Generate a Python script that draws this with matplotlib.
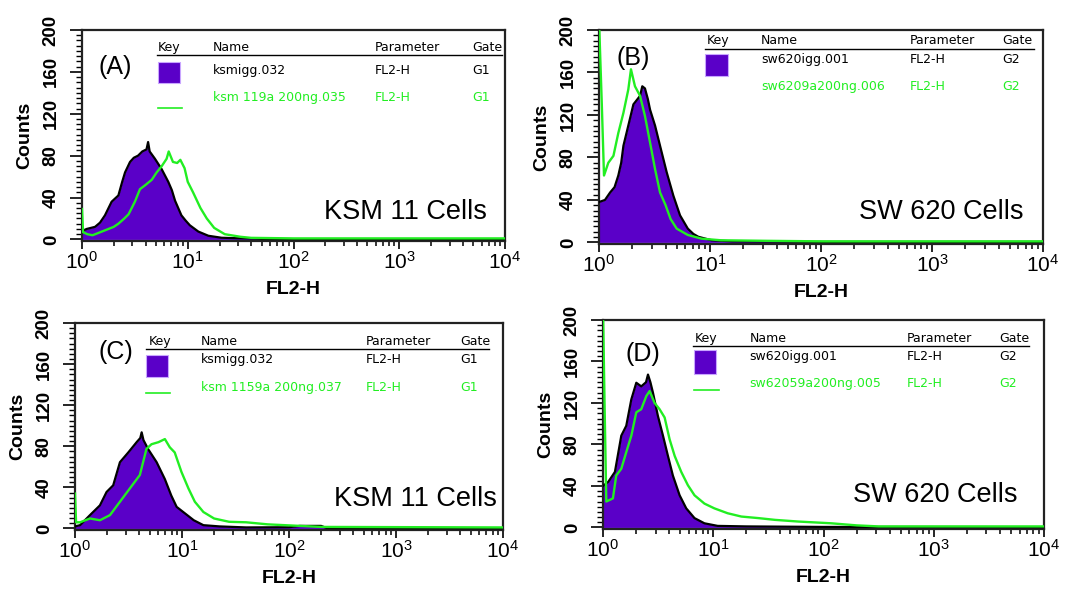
import matplotlib
matplotlib.use("Agg")
import numpy as np
import matplotlib.pyplot as plt
from matplotlib.patches import Rectangle
from matplotlib.ticker import FixedLocator, MultipleLocator, NullFormatter, FixedFormatter

plt.rcParams['font.family'] = ['Liberation Sans', 'DejaVu Sans']
plt.rcParams['mathtext.fontset'] = 'custom'
plt.rcParams['mathtext.rm'] = 'Liberation Sans'
plt.rcParams['mathtext.it'] = 'Liberation Sans:italic'
plt.rcParams['mathtext.bf'] = 'Liberation Sans:bold'

PURPLE = '#5a00c8'
GREEN = '#22ee22'

# ---------------------------------------------------------------------------
# Histogram data: channel position as log10(FL2-H) and event counts
# ---------------------------------------------------------------------------
# (A) KSM 11, isotype control vs 119a antibody
a_ctrl_dec = [0.0, 0.044, 0.123, 0.17, 0.217, 0.28, 0.344, 0.38, 0.407, 0.454, 0.49, 0.53,
              0.57, 0.61, 0.625, 0.64, 0.69, 0.754, 0.816, 0.85, 0.88, 0.94, 0.98, 1.02,
              1.10, 1.195, 1.32, 1.45, 1.57, 1.7, 2.0, 4.0]
a_ctrl_cnt = [8, 10, 12, 16, 23, 36, 42, 55, 64, 74, 78, 80,
              84, 86, 93, 84, 77, 67, 55, 47, 37, 23, 18, 13.5,
              7.5, 3.5, 1.6, 1.2, 1.0, 0.5, 0.3, 0.3]
a_test_dec = [0.0, 0.01, 0.05, 0.1, 0.15, 0.2, 0.25, 0.3, 0.344, 0.4, 0.44, 0.5, 0.548,
              0.6, 0.66, 0.706, 0.754, 0.8, 0.82, 0.86, 0.9, 0.93, 0.97, 1.0, 1.05,
              1.12, 1.18, 1.25, 1.35, 1.5, 1.6, 2.0, 4.0]
a_test_cnt = [29, 7, 5, 4, 6, 8, 10, 12, 15, 20, 24, 36, 48,
              52, 57, 64, 70, 77, 84, 74, 73, 76, 68, 55, 45,
              30, 20, 11, 5, 2.5, 1.5, 1.0, 1.0]

# (B) SW 620, isotype control vs 9a antibody
b_ctrl_dec = [0.0, 0.054, 0.1, 0.14, 0.174, 0.2, 0.22, 0.264, 0.31, 0.34, 0.37, 0.39,
              0.414, 0.44, 0.46, 0.505, 0.55, 0.61, 0.67, 0.73, 0.80, 0.85, 0.895,
              1.015, 1.2, 1.5, 2.0, 4.0]
b_ctrl_cnt = [38, 40, 47, 52, 63, 75, 91, 110, 130, 134, 138, 147,
              145, 135, 125, 110, 91, 66, 44, 25.5, 13, 8, 5.3,
              2, 1, 0.8, 0.5, 0.5]
b_test_dec = [0.0, 0.025, 0.045, 0.084, 0.13, 0.174, 0.22, 0.264, 0.288, 0.324, 0.37,
              0.414, 0.46, 0.505, 0.55, 0.6, 0.645, 0.70, 0.80, 0.925, 1.1, 1.5, 2.0, 4.0]
b_test_cnt = [210, 131, 63, 75, 81.5, 103, 122, 144, 163, 147, 138,
              119, 94, 69, 47, 35, 22, 13, 7, 3.5, 2, 1.5, 1.0, 1.0]

# (C) KSM 11, isotype control vs 1159a antibody
c_ctrl_dec = [0.0, 0.047, 0.14, 0.233, 0.295, 0.357, 0.42, 0.498, 0.576, 0.61, 0.623,
              0.64, 0.685, 0.763, 0.84, 0.90, 0.95, 1.03, 1.11, 1.20, 1.35, 1.6, 2.0,
              2.1, 2.3, 2.35, 4.0]
c_ctrl_cnt = [2, 3.2, 13, 22.5, 35.5, 42, 64.5, 74, 84, 88, 93.6,
              86, 77, 64.5, 48, 32, 21, 14.5, 8, 3.2, 2, 1, 1.2,
              2.5, 2.5, 0.5, 0.3]
c_test_dec = [0.0, 0.01, 0.047, 0.14, 0.233, 0.327, 0.42, 0.513, 0.606, 0.668, 0.715,
              0.78, 0.84, 0.886, 0.932, 0.995, 1.06, 1.12, 1.2, 1.30, 1.44, 1.6, 1.8,
              2.0, 2.3, 4.0]
c_test_cnt = [34, 6, 6, 9.7, 8, 13, 26, 39, 52, 77.5, 82,
              84, 87, 79, 74, 55, 39, 26, 16, 9.7, 6.5, 6, 4,
              3, 1.5, 1.0]

# (D) SW 620, isotype control vs 59a antibody
d_ctrl_dec = [0.0, 0.048, 0.108, 0.166, 0.211, 0.257, 0.302, 0.347, 0.39, 0.408, 0.43,
              0.453, 0.498, 0.544, 0.589, 0.634, 0.695, 0.755, 0.83, 0.92, 1.04, 1.3,
              2.0, 4.0]
d_ctrl_cnt = [40, 44, 53.5, 88.5, 98, 123.5, 139.5, 136, 140, 147.4, 140,
              130, 107.5, 88.5, 69, 50, 31, 18.4, 9, 4, 1.5, 1,
              0.5, 0.3]
d_test_dec = [0.0, 0.015, 0.03, 0.09, 0.12, 0.166, 0.211, 0.257, 0.302, 0.347, 0.393,
              0.423, 0.468, 0.513, 0.559, 0.604, 0.65, 0.71, 0.77, 0.83, 0.92, 1.01,
              1.13, 1.255, 1.41, 1.56, 1.77, 2.07, 2.3, 2.5, 4.0]
d_test_cnt = [210, 114, 25, 28, 50, 56.6, 72.6, 88.5, 111, 114, 126.7,
              131.5, 120, 114, 106, 85, 69, 53.5, 40.7, 31, 23, 18.4,
              13.7, 10.5, 9, 7.3, 5.7, 4, 2, 1, 1.0]

panel_tags = ['(A)', '(B)', '(C)', '(D)']
cell_lines = ['KSM 11 Cells', 'SW 620 Cells', 'KSM 11 Cells', 'SW 620 Cells']
ctrl_names = ['ksmigg.032', 'sw620igg.001', 'ksmigg.032', 'sw620igg.001']
test_names = ['ksm 119a 200ng.035', 'sw6209a200ng.006', 'ksm 1159a 200ng.037', 'sw62059a200ng.005']
gates = ['G1', 'G2', 'G1', 'G2']
parameter = 'FL2-H'
legend_header = ['Key', 'Name', 'Parameter', 'Gate']

y_ticks = [0, 40, 80, 120, 160, 200]
x_decades = [0, 1, 2, 3, 4]

series = [
    (a_ctrl_dec, a_ctrl_cnt, a_test_dec, a_test_cnt),
    (b_ctrl_dec, b_ctrl_cnt, b_test_dec, b_test_cnt),
    (c_ctrl_dec, c_ctrl_cnt, c_test_dec, c_test_cnt),
    (d_ctrl_dec, d_ctrl_cnt, d_test_dec, d_test_cnt),
]

# ---------------------------------------------------------------------------
# Layout (figure pixels for the axes, axes fractions for the key tables)
# ---------------------------------------------------------------------------
W, H = 1072, 590
axes_px = [  # left, top, right, bottom
    (82, 30, 505, 241),
    (599, 30, 1043, 244),
    (75, 323, 503, 530),
    (603, 320, 1044, 529),
]
layout = [
    dict(cols=[0.180, 0.310, 0.693, 0.922], head=0.919, rule=(0.177, 0.993, 0.882),
         box=(0.180, 0.749, 0.052, 0.099), row1=0.810, row2=0.682, gline=0.630,
         tag=(0.078, 0.827), cells=(0.957, 0.137)),
    dict(cols=[0.242, 0.365, 0.700, 0.909], head=0.953, rule=(0.239, 0.980, 0.910),
         box=(0.239, 0.785, 0.051, 0.103), row1=0.864, row2=0.734, gline=None,
         tag=(0.078, 0.871), cells=(0.957, 0.151)),
    dict(cols=[0.172, 0.294, 0.679, 0.900], head=0.911, rule=(0.165, 0.967, 0.876),
         box=(0.165, 0.737, 0.053, 0.110), row1=0.822, row2=0.690, gline=0.661,
         tag=(0.095, 0.859), cells=(0.985, 0.150)),
    dict(cols=[0.209, 0.332, 0.689, 0.899], head=0.912, rule=(0.205, 0.966, 0.876),
         box=(0.206, 0.742, 0.050, 0.115), row1=0.825, row2=0.694, gline=0.666,
         tag=(0.090, 0.838), cells=(0.940, 0.164)),
]
KEY_FONT = dict(fontsize=9, family='DejaVu Sans', va='center', ha='left', zorder=6)

fig = plt.figure(figsize=(W / 100, H / 100), dpi=100)

for i in range(4):
    l, t, r, b = axes_px[i]
    ax = fig.add_axes([l / W, 1 - b / H, (r - l) / W, (b - t) / H])
    ctrl_dec, ctrl_cnt, test_dec, test_cnt = series[i]
    xc = 10 ** np.asarray(ctrl_dec)
    xt = 10 ** np.asarray(test_dec)

    ax.fill_between(xc, ctrl_cnt, 0, color=PURPLE, lw=0, zorder=2)
    ax.plot(xc, ctrl_cnt, color='black', lw=1.6, zorder=3)
    ax.plot(xt, test_cnt, color=GREEN, lw=1.7, zorder=4)

    ax.set_xscale('log')
    ax.set_xlim(1, 1e4)
    ax.set_ylim(-1.5, 200)

    ax.xaxis.set_major_locator(FixedLocator([10.0 ** d for d in x_decades]))
    ax.xaxis.set_major_formatter(FixedFormatter([r'$\mathregular{10^{%d}}$' % d for d in x_decades]))
    ax.xaxis.set_minor_locator(FixedLocator([m * 10.0 ** d for d in x_decades[:-1] for m in range(2, 10)]))
    ax.xaxis.set_minor_formatter(NullFormatter())
    ax.yaxis.set_major_locator(FixedLocator(y_ticks))
    ax.yaxis.set_minor_locator(MultipleLocator(5))

    ax.tick_params(axis='x', which='major', direction='out', length=6, width=1.2, pad=1, labelsize=15)
    ax.tick_params(axis='x', which='minor', direction='out', length=3.5, width=1.1)
    ax.tick_params(axis='y', which='major', direction='out', length=9, width=1.2, pad=7,
                   labelsize=13.5, labelrotation=90)
    ax.tick_params(axis='y', which='minor', direction='out', length=4.5, width=1.0)
    for lab in ax.get_yticklabels():
        lab.set_va('center')
        lab.set_fontweight('bold')

    for s in ax.spines.values():
        s.set_linewidth(1.6)
        s.set_color('#222222')

    ax.set_xlabel('FL2-H', fontsize=14, fontweight='bold', labelpad=6)
    ax.set_ylabel('Counts', fontsize=14, fontweight='bold', labelpad=7)

    # key table
    L = layout[i]
    tr = ax.transAxes
    for txt, cx in zip(legend_header, L['cols']):
        ax.text(cx, L['head'], txt, transform=tr, **KEY_FONT)
    x0, x1, yr = L['rule']
    ax.plot([x0, x1], [yr, yr], transform=tr, color='black', lw=1.0, clip_on=False, zorder=6)
    bx, by, bw, bh = L['box']
    ax.add_patch(Rectangle((bx, by), bw, bh, transform=tr, facecolor=PURPLE,
                           edgecolor='#c9a6ff', lw=0.8, zorder=6))
    row1 = [ctrl_names[i], parameter, gates[i]]
    row2 = [test_names[i], parameter, gates[i]]
    for txt, cx in zip(row1, L['cols'][1:]):
        ax.text(cx, L['row1'], txt, transform=tr, color='black', **KEY_FONT)
    for txt, cx in zip(row2, L['cols'][1:]):
        ax.text(cx, L['row2'], txt, transform=tr, color=GREEN, **KEY_FONT)
    if L['gline'] is not None:
        ax.plot([bx, bx + 0.057], [L['gline'], L['gline']], transform=tr, color=GREEN,
                lw=1.2, zorder=6)

    ax.text(*L['tag'], panel_tags[i], transform=tr, fontsize=18, ha='center', va='center', zorder=6)
    ax.text(*L['cells'], cell_lines[i], transform=tr, fontsize=19.5, ha='right', va='center', zorder=6)

fig.savefig('out.png', dpi=100)
